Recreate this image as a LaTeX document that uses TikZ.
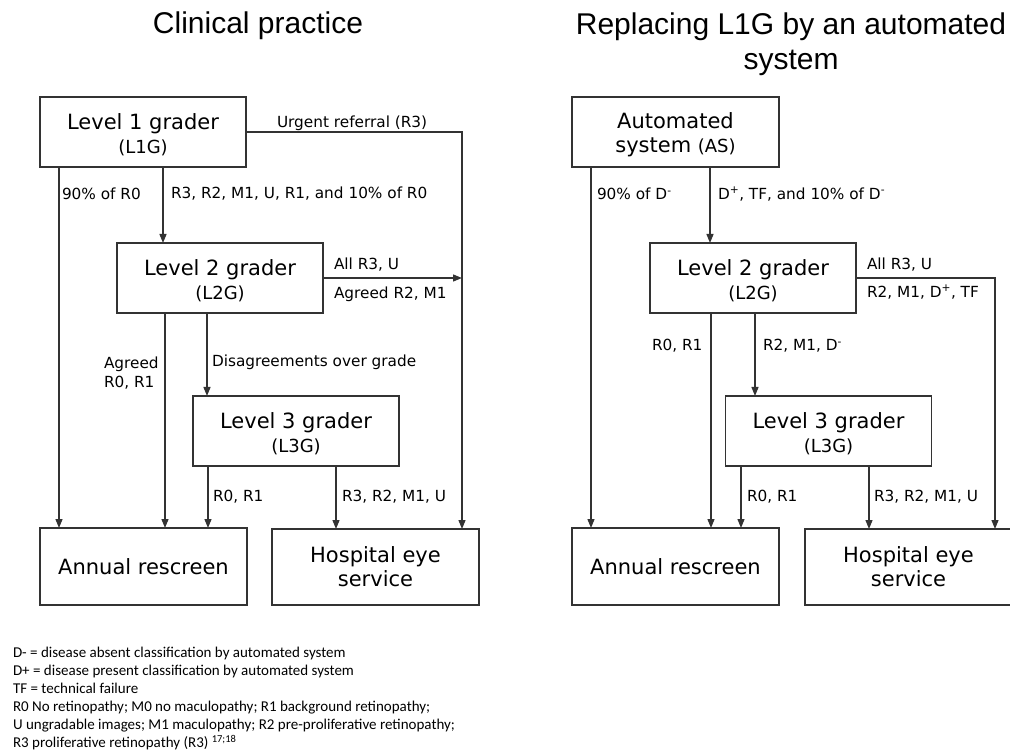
\documentclass[tikz,border=0pt]{standalone}
\usepackage{fontspec}
\setmainfont{DejaVu Sans}
\newfontfamily\titlefont{Liberation Sans}
\newfontfamily\notefont{Carlito}
\usetikzlibrary{arrows.meta}
\definecolor{edge}{HTML}{333333}
\newcommand{\boxbig}{\fontsize{21}{24}\selectfont}
\newcommand{\boxsmall}{\fontsize{18}{24}\selectfont}
\newcommand{\lift}{\rule{0pt}{22pt}}
\begin{document}
\begin{tikzpicture}[x=1pt,y=-1pt,outer sep=0pt,inner sep=0pt]
\tikzstyle{box}=[draw=edge, line width=1.4pt, minimum width=206pt,
    minimum height=70pt, align=center, font=\boxbig]
\tikzstyle{lab}=[anchor=west, align=left, font=\fontsize{15.3}{18.5}\selectfont]
\tikzstyle{arr}=[draw=edge, line width=1.3pt, -{Triangle[length=9pt,width=7pt]}]
\tikzstyle{title}=[align=center, font=\titlefont\fontsize{30}{35}\selectfont]
\useasboundingbox (0,0) rectangle (1010,751);
% titles
\node (t1) [title, anchor=base] at (258,34) {Clinical practice};
\node (t2) [title, anchor=base] at (791,35) {Replacing L1G by an automated};
\node (t3) [title, anchor=base] at (791,70) {system};
% clinical practice
\node (l1) [box] at (143,132) {\lift Level 1 grader\\\boxsmall (L1G)};
\node (l2) [box] at (220,278) {\lift Level 2 grader\\\boxsmall (L2G)};
\node (l3) [box] at (296,431) {\lift Level 3 grader\\\boxsmall (L3G)};
\node (ar) [box, minimum width=207pt, minimum height=77pt] at (143.5,566.5) {Annual rescreen};
\node (he) [box, minimum width=207pt, minimum height=76pt] at (375.5,567) {Hospital eye\\service};
\coordinate (a1) at (59,0);
\coordinate (a2) at (163,0);
\coordinate (a3) at (165,0);
\coordinate (a4) at (207,0);
\coordinate (a5) at (208,0);
\coordinate (a6) at (336,0);
\coordinate (r1) at (462,0);
\draw[arr] (l1.east) -| (r1 |- he.north);
\draw[arr] (l2.east) -- (l2.east -| r1);
\draw[arr] (l1.south -| a1) -- (ar.north -| a1);
\draw[arr] (l1.south -| a2) -- (l2.north -| a2);
\draw[arr] (l2.south -| a3) -- (ar.north -| a3);
\draw[arr] (l2.south -| a4) -- (l3.north -| a4);
\draw[arr] (l3.south -| a5) -- (ar.north -| a5);
\draw[arr] (l3.south -| a6) -- (he.north -| a6);
\node (n1) [lab] at (277,123) {Urgent referral (R3)};
\node (n2) [lab] at (62,194) {90\% of R0};
\node (n3) [lab] at (171,194) {R3, R2, M1, U, R1, and 10\% of R0};
\node (n4) [lab] at (334,265) {All R3, U};
\node (n5) [lab] at (334,294) {Agreed R2, M1};
\node (n6) [lab] at (104,373) {Agreed\\R0, R1};
\node (n7) [lab] at (212,362) {Disagreements over grade};
\node (n8) [lab] at (213,497) {R0, R1};
\node (n9) [lab] at (342,497) {R3, R2, M1, U};
% automated system
\node (as) [box, minimum width=207pt] at (675.5,132) {\lift Automated\\system \boxsmall(AS)};
\node (m2) [box] at (753,278) {\lift Level 2 grader\\\boxsmall (L2G)};
\node (m3) [box] at (828.5,431) {\lift Level 3 grader\\\boxsmall (L3G)};
\node (br) [box, minimum width=207pt, minimum height=77pt] at (675.5,566.5) {Annual rescreen};
\node (bh) [box, minimum width=207pt, minimum height=76pt] at (908.5,567) {Hospital eye\\service};
\coordinate (b1) at (591,0);
\coordinate (b2) at (710,0);
\coordinate (b3) at (711,0);
\coordinate (b4) at (755,0);
\coordinate (b5) at (741,0);
\coordinate (b6) at (869,0);
\coordinate (r2) at (995,0);
\draw[arr] (m2.east) -| (r2 |- bh.north);
\draw[arr] (as.south -| b1) -- (br.north -| b1);
\draw[arr] (as.south -| b2) -- (m2.north -| b2);
\draw[arr] (m2.south -| b3) -- (br.north -| b3);
\draw[arr] (m2.south -| b4) -- (m3.north -| b4);
\draw[arr] (m3.south -| b5) -- (br.north -| b5);
\draw[arr] (m3.south -| b6) -- (bh.north -| b6);
\node (k1) [lab] at (597,194) {90\% of D\textsuperscript{-}};
\node (k2) [lab] at (718,194) {D\textsuperscript{+}, TF, and 10\% of D\textsuperscript{-}};
\node (k3) [lab] at (867,265) {All R3, U};
\node (k4) [lab] at (867,292) {R2, M1, D\textsuperscript{+}, TF};
\node (k5) [lab] at (652,346) {R0, R1};
\node (k6) [lab] at (763,346) {R2, M1, D\textsuperscript{-}};
\node (k7) [lab] at (747,497) {R0, R1};
\node (k8) [lab] at (874,497) {R3, R2, M1, U};
% key
\node (key) [anchor=north west, align=left, font=\notefont\fontsize{15}{18}\selectfont] at (13,647)
  {D- = disease absent classification by automated system\\
   D+ = disease present classification by automated system\\
   TF = technical failure\\
   R0 No retinopathy; M0 no maculopathy; R1 background retinopathy;\\
   U ungradable images; M1 maculopathy; R2 pre-proliferative retinopathy;\\
   R3 proliferative retinopathy (R3) \textsuperscript{17;18}};
\end{tikzpicture}
\end{document}
